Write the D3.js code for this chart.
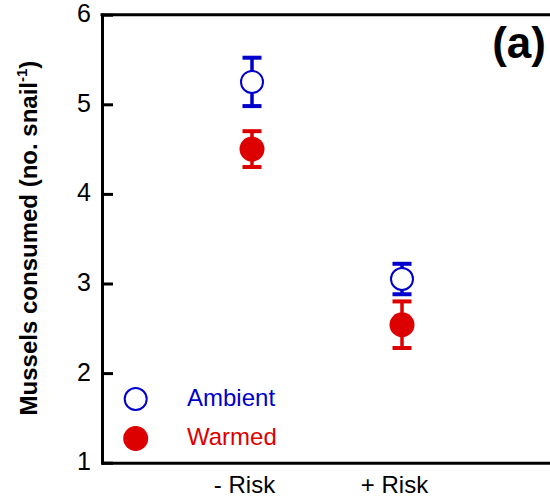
<!DOCTYPE html>
<html>
<head>
<meta charset="utf-8">
<script src="https://cdn.jsdelivr.net/npm/d3@7"></script>
<style>
  body { margin: 0; background: #fff; }
  svg { display: block; font-family: "Liberation Sans", Arial, Helvetica, sans-serif; }
  .axis path, .axis line { stroke: #000; stroke-width: 3; }
  .axis text { font-size: 24px; fill: #000; }
  .axis--y text { font-size: 25px; }
</style>
</head>
<body>
<svg id="chart" width="550" height="502"></svg>
<script>
// data
const treatments = ['- Risk', '+ Risk'];
const ambientMean = [5.25, 3.05];
const ambientSE = [0.27, 0.17];
const warmedMean = [4.50, 2.54];
const warmedSE = [0.20, 0.26];
const yTicks = [1, 2, 3, 4, 5, 6];

const blue = '#0000cc';
const red = '#dd0000';

const svg = d3.select('#chart');

const x = d3.scaleLinear().domain([0, 3]).range([102, 552]);
const y = d3.scaleLinear().domain([1, 6]).range([462.7, 14.7]);

// left axis, ticks pointing inward
svg.append('g')
  .attr('class', 'axis axis--y')
  .attr('transform', `translate(${x(0)},0)`)
  .call(d3.axisLeft(y).tickValues(yTicks).tickFormat(d3.format('d'))
    .tickSizeInner(-11).tickSizeOuter(0).tickPadding(11))
  .call(g => g.selectAll('text').attr('dy', '0.28em'))
  .call(g => g.select('.domain').attr('stroke-linecap', 'square'));

// bottom axis with treatment labels
svg.append('g')
  .attr('class', 'axis axis--x')
  .attr('transform', `translate(0,${y(1)})`)
  .call(d3.axisBottom(x).tickValues([1, 2]).tickFormat(d => treatments[d - 1])
    .tickSize(0).tickPadding(13))
  .call(g => g.selectAll('text').attr('dx', -8));

// top frame line
svg.append('line')
  .attr('x1', x(0)).attr('x2', x(3))
  .attr('y1', y(6)).attr('y2', y(6))
  .attr('stroke', '#000').attr('stroke-width', 3).attr('stroke-linecap', 'square');

// error bars + points
function series(mean, se, color, fill, r, sw) {
  const g = svg.append('g');
  const rows = mean.map((m, i) => ({x: i + 1, m: m, se: se[i]}));
  g.selectAll('line.v').data(rows).join('line')
    .attr('x1', d => x(d.x)).attr('x2', d => x(d.x))
    .attr('y1', d => y(d.m + d.se)).attr('y2', d => y(d.m - d.se))
    .attr('stroke', color).attr('stroke-width', 3.5);
  g.selectAll('line.cap').data(rows.flatMap(d => [d.m + d.se, d.m - d.se].map(v => ({x: d.x, v: v})))).join('line')
    .attr('x1', d => x(d.x) - 9.5).attr('x2', d => x(d.x) + 9.5)
    .attr('y1', d => y(d.v)).attr('y2', d => y(d.v))
    .attr('stroke', color).attr('stroke-width', 4);
  g.selectAll('circle').data(rows).join('circle')
    .attr('cx', d => x(d.x)).attr('cy', d => y(d.m)).attr('r', r)
    .attr('fill', fill).attr('stroke', sw ? color : 'none').attr('stroke-width', sw);
}
series(ambientMean, ambientSE, blue, '#fff', 11, 2);
series(warmedMean, warmedSE, red, red, 12.5, 0);

// legend
const legend = [
  {name: 'Ambient', color: blue, fill: '#fff', r: 11, sw: 2, cy: 399},
  {name: 'Warmed', color: red, fill: red, r: 12.5, sw: 0, cy: 438.5}
];
legend.forEach(l => {
  svg.append('circle').attr('cx', 135.7).attr('cy', l.cy).attr('r', l.r)
    .attr('fill', l.fill).attr('stroke', l.sw ? l.color : 'none').attr('stroke-width', l.sw);
  svg.append('text').attr('x', 187).attr('y', l.cy + 6.5)
    .attr('fill', l.color).attr('font-size', 24).text(l.name);
});

// y label
const yl = svg.append('text')
  .attr('transform', 'translate(37,238) rotate(-90)')
  .attr('text-anchor', 'middle')
  .attr('font-size', 24).attr('font-weight', 'bold');
yl.append('tspan').text('Mussels consumed (no. snail');
yl.append('tspan').attr('font-size', 15).attr('dy', -10).text('-1');
yl.append('tspan').attr('dy', 10).text(')');

// panel letter
svg.append('text').attr('x', 546).attr('y', 58)
  .attr('text-anchor', 'end').attr('font-size', 44).attr('font-weight', 'bold')
  .text('(a)');
</script>
</body>
</html>
